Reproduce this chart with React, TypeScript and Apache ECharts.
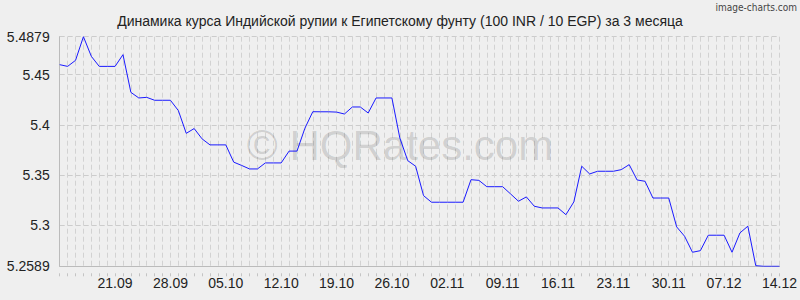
import React, { useEffect, useRef } from "react";
import * as echarts from "echarts";

const TITLE = "Динамика курса Индийской рупии к Египетскому фунту (100 INR / 10 EGP) за 3 месяца";
const WATERMARK = "© HQRates.com";
const CREDIT = "image-charts.com";

const categories = [
  "14.09", "15.09", "16.09", "17.09", "18.09", "19.09", "20.09", "21.09", "22.09", "23.09",
  "24.09", "25.09", "26.09", "27.09", "28.09", "29.09", "30.09",
  "01.10", "02.10", "03.10", "04.10", "05.10", "06.10", "07.10", "08.10", "09.10", "10.10",
  "11.10", "12.10", "13.10", "14.10", "15.10", "16.10", "17.10", "18.10", "19.10", "20.10",
  "21.10", "22.10", "23.10", "24.10", "25.10", "26.10", "27.10", "28.10", "29.10", "30.10", "31.10",
  "01.11", "02.11", "03.11", "04.11", "05.11", "06.11", "07.11", "08.11", "09.11", "10.11",
  "11.11", "12.11", "13.11", "14.11", "15.11", "16.11", "17.11", "18.11", "19.11", "20.11",
  "21.11", "22.11", "23.11", "24.11", "25.11", "26.11", "27.11", "28.11", "29.11", "30.11",
  "01.12", "02.12", "03.12", "04.12", "05.12", "06.12", "07.12", "08.12", "09.12", "10.12",
  "11.12", "12.12", "13.12", "14.12",
];

const rates = [
  5.4600, 5.4583, 5.4643, 5.4879, 5.4683, 5.4583, 5.4583, 5.4583, 5.4700, 5.4324,
  5.4268, 5.4274, 5.4245, 5.4245, 5.4245, 5.4142, 5.3915, 5.3963, 5.3860, 5.3800,
  5.3800, 5.3800, 5.3628, 5.3595, 5.3560, 5.3560, 5.3620, 5.3620, 5.3620, 5.3738,
  5.3738, 5.3966, 5.4131, 5.4130, 5.4130, 5.4127, 5.4108, 5.4178, 5.4178, 5.4118,
  5.4268, 5.4268, 5.4268, 5.3869, 5.3643, 5.3587, 5.3294, 5.3228, 5.3228, 5.3228,
  5.3228, 5.3228, 5.3453, 5.3446, 5.3383, 5.3383, 5.3383, 5.3311, 5.3238, 5.3281,
  5.3188, 5.3171, 5.3171, 5.3171, 5.3104, 5.3231, 5.3587, 5.3510, 5.3537, 5.3537,
  5.3537, 5.3553, 5.3603, 5.3450, 5.3437, 5.3270, 5.3270, 5.3270, 5.2982, 5.2889,
  5.2729, 5.2745, 5.2899, 5.2899, 5.2899, 5.2729, 5.2922, 5.2989, 5.2595, 5.2589,
  5.2589, 5.2589,
];

const yTicks = [5.2589, 5.3, 5.35, 5.4, 5.45, 5.4879];
const Y_MIN = 5.2589;
const Y_MAX = 5.4879;

const FONT = '"Liberation Sans", Arial, sans-serif';

export default function App() {
  const ref = useRef<HTMLDivElement>(null);

  useEffect(() => {
    if (!ref.current) return;
    const chart = echarts.init(ref.current, undefined, { renderer: "svg" });
    const last = categories.length - 1;
    chart.setOption({
      animation: false,
      backgroundColor: "#efefef",
      title: {
        text: TITLE,
        left: "center",
        top: 9,
        textStyle: { fontFamily: FONT, fontSize: 14, fontWeight: "normal", color: "#222" },
      },
      graphic: [
        {
          type: "text",
          right: 3,
          top: 2,
          style: {
            text: CREDIT,
            fill: "#444",
            font: '10px "Liberation Sans Narrow", "DejaVu Sans Condensed", sans-serif',
          },
        },
        {
          type: "text",
          left: "center",
          top: 124,
          z: 1,
          style: {
            text: WATERMARK,
            fill: "rgba(0,0,0,0.14)",
            font: '42px "Liberation Sans", Arial, sans-serif',
          },
        },
      ],
      grid: { left: 59.7, right: 20.5, top: 36.7, bottom: 33.7 },
      xAxis: {
        type: "category",
        data: categories,
        boundaryGap: false,
        axisLine: { show: true, lineStyle: { color: "#bbbbbb", width: 1 } },
        axisTick: {
          show: true,
          interval: 0,
          length: 10,
          lineStyle: { color: "#c4c4c4", type: [0, 7, 3, 0] },
        },
        axisLabel: {
          interval: (index: number) => index > 0 && (last - index) % 7 === 0,
          margin: 10,
          fontSize: 14,
          fontFamily: FONT,
          color: "#222",
        },
        splitLine: {
          show: true,
          interval: 0,
          lineStyle: { color: "#d2d2d2", type: [5, 3], width: 1 },
        },
      },
      yAxis: {
        type: "value",
        min: Y_MIN,
        max: Y_MAX,
        axisLine: { show: true, lineStyle: { color: "#bbbbbb", width: 1 } },
        axisTick: { show: false, customValues: yTicks },
        axisLabel: {
          customValues: yTicks,
          margin: 10,
          fontSize: 14,
          fontFamily: FONT,
          color: "#222",
          formatter: (v: number) => String(+(+v).toFixed(4)),
        },
        splitLine: {
          show: true,
          lineStyle: { color: "#cccccc", type: [5, 3], width: 1 },
        },
      },
      series: [
        {
          type: "line",
          data: rates,
          symbol: "none",
          showSymbol: false,
          lineStyle: { color: "#1a1aff", width: 1 },
          z: 3,
        },
      ],
    });
    return () => chart.dispose();
  }, []);

  return (
    <div
      ref={ref}
      style={{ position: "fixed", left: 0, top: 0, width: 800, height: 300 }}
    />
  );
}
